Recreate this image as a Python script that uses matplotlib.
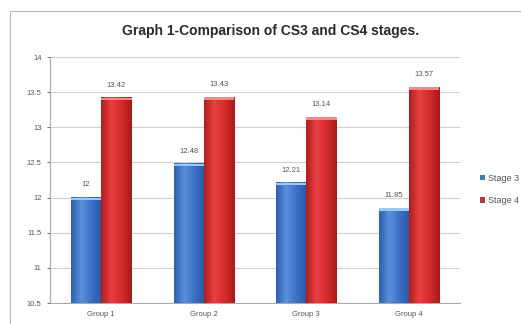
import matplotlib.pyplot as plt
import numpy as np
from matplotlib.colors import LinearSegmentedColormap
from matplotlib.patches import Rectangle

groups = ['Group 1', 'Group 2', 'Group 3', 'Group 4']
stage3 = [12, 12.48, 12.21, 11.85]
stage4 = [13.42, 13.43, 13.14, 13.57]
stage3_labels = ['12', '12.48', '12.21', '11.85']
stage4_labels = ['13.42', '13.43', '13.14', '13.57']
yticks = [10.5, 11, 11.5, 12, 12.5, 13, 13.5, 14]
ytick_labels = ['10.5', '11', '11.5', '12', '12.5', '13', '13.5', '14']

blue_ramp = LinearSegmentedColormap.from_list('blue_ramp', ['#2f5fae', '#5b8fdc', '#3b70c6', '#2a58a4'])
red_ramp = LinearSegmentedColormap.from_list('red_ramp', ['#b01e1e', '#e84040', '#d42c2c', '#a81a1a'])

fig = plt.figure(figsize=(5.21, 3.24), dpi=100)
fig.patch.set_facecolor('white')
fig.patches.append(Rectangle((0.019, -0.1), 1.0, 1.066, transform=fig.transFigure,
                             facecolor='none', edgecolor='#b8b8b8', linewidth=0.8))

ax = fig.add_axes([0.096, 0.0648, 0.787, 0.7592])
x = np.arange(len(groups))
w = 0.295
base = yticks[0]

bars3 = ax.bar(x - w / 2, np.array(stage3) - base, w, bottom=base, color='#3b70c6', zorder=2)
bars4 = ax.bar(x + w / 2, np.array(stage4) - base, w, bottom=base, color='#d42c2c', zorder=2)

# cylinder-like shading over each bar, with a lighter top cap
grad = np.linspace(0, 1, 64).reshape(1, -1)
for bars, cmap, cap in ((bars3, blue_ramp, '#9cc8f2'), (bars4, red_ramp, '#f08a8a')):
    for r in bars:
        x0, y0, bw, bh = r.get_x(), r.get_y(), r.get_width(), r.get_height()
        ax.imshow(grad, cmap=cmap, aspect='auto', extent=(x0, x0 + bw, y0, y0 + bh), zorder=3)
        ax.add_patch(Rectangle((x0, y0 + bh - 0.035), bw, 0.035, facecolor=cap, edgecolor='none', zorder=4))

for xi, v, s in zip(x - w / 2, stage3, stage3_labels):
    ax.text(xi, v + 0.13, s, ha='center', va='bottom', fontsize=5.5, color='#555555', family='Liberation Sans')
for xi, v, s in zip(x + w / 2, stage4, stage4_labels):
    ax.text(xi, v + 0.13, s, ha='center', va='bottom', fontsize=5.5, color='#555555', family='Liberation Sans')

ax.set_xlim(-0.5, len(groups) - 0.5)
ax.set_ylim(10.5, 14)
ax.set_yticks(yticks)
ax.set_yticklabels(ytick_labels)
ax.set_xticks(x)
ax.set_xticklabels(groups)
ax.tick_params(axis='both', labelsize=5.5, colors='#555555', length=2, width=0.6, pad=4)
ax.tick_params(axis='x', length=0, pad=6)
for lab in ax.get_xticklabels() + ax.get_yticklabels():
    lab.set_family('Liberation Sans')
ax.grid(axis='y', color='#cfcfcf', linewidth=0.8, zorder=0)
ax.set_axisbelow(True)
for side in ('top', 'right'):
    ax.spines[side].set_visible(False)
for side in ('left', 'bottom'):
    ax.spines[side].set_color('#aaaaaa')
    ax.spines[side].set_linewidth(0.8)

fig.text(0.52, 0.905, 'Graph 1-Comparison of CS3 and CS4 stages.', ha='center', va='center',
         fontsize=10, fontweight='bold', color='#2a2a2a', family='Liberation Sans')

handles = [Rectangle((0, 0), 1, 1, facecolor='#3f7fa6'), Rectangle((0, 0), 1, 1, facecolor='#b83a3a')]
fig.legend(handles, ['Stage 3', 'Stage 4'], loc='center left', bbox_to_anchor=(0.905, 0.415),
           frameon=False, prop={'family': 'Liberation Sans', 'size': 6.5}, labelcolor='#555555',
           handlelength=0.6, handleheight=0.6, handletextpad=0.3, labelspacing=1.5)

fig.savefig('out.png', dpi=100)
